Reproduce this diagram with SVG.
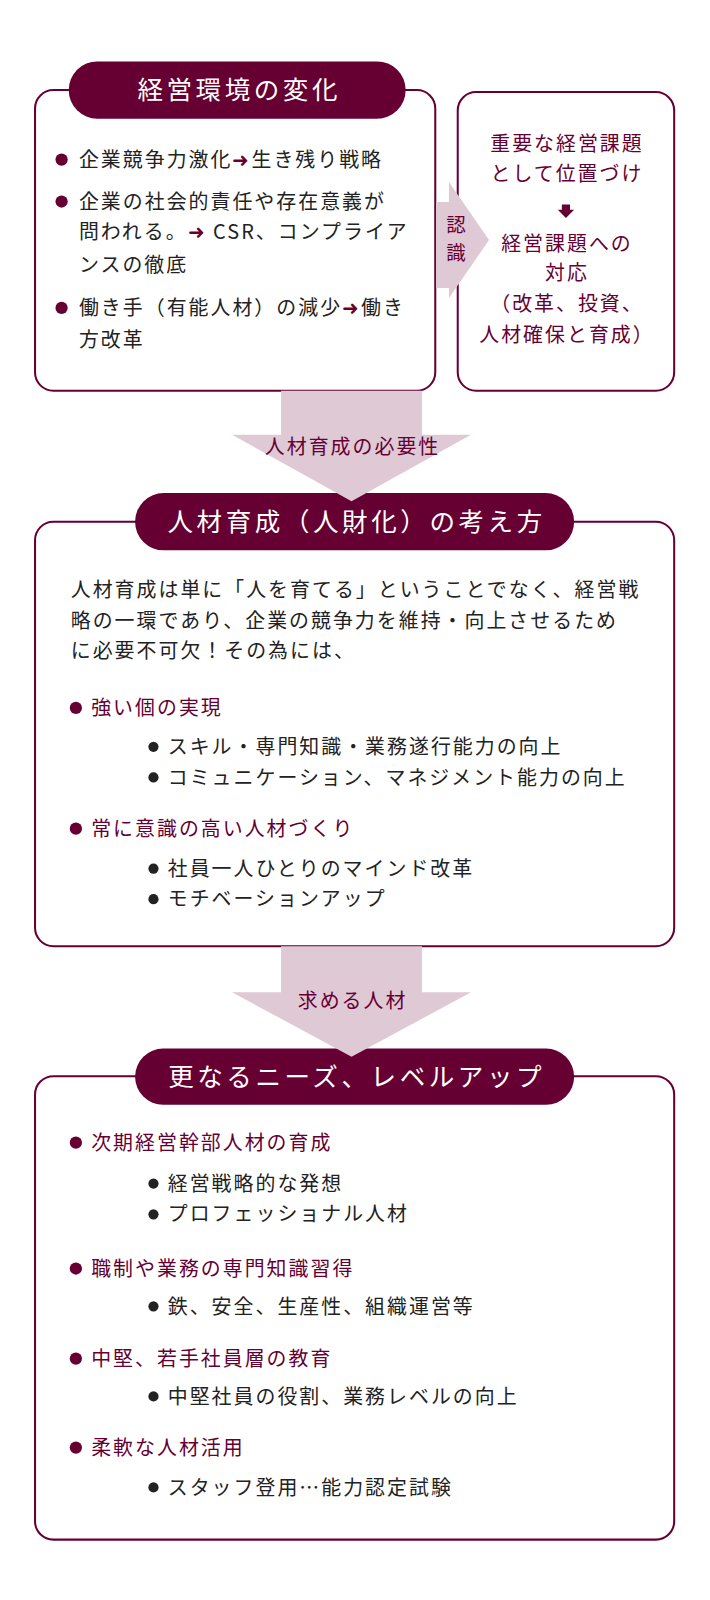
<svg xmlns="http://www.w3.org/2000/svg" width="710" height="1600" viewBox="0 0 710 1600">
<style>
text{font-family:"Noto Sans CJK JP","Noto Sans",sans-serif;font-size:19.5px;fill:#222;letter-spacing:2px}
.box{fill:#fff;stroke:#660033;stroke-width:2}
.pill{fill:#660033}
.ttl{fill:#fff;font-size:25px;text-anchor:middle;letter-spacing:3.5px}
.m{fill:#660033}
.c{text-anchor:middle}
.arr{fill:#dfc9d5}
</style>
<rect width="710" height="1600" fill="#fff"/>
<g transform="matrix(1.021 0 0 1.023 -0.7 0)">
<g id="node1">
<rect class="box" x="35" y="88" width="392" height="294" rx="18"/>
<rect class="pill" x="68" y="60" width="330" height="56" rx="28"/>
<text class="ttl" x="235" y="97">経営環境の変化</text>
<circle class="m" cx="61" cy="156" r="6"/>
<text x="78" y="163">企業競争力激化<tspan class="m">➜</tspan>生き残り戦略</text>
<circle class="m" cx="61" cy="197" r="6"/>
<text x="78" y="204">企業の社会的責任や存在意義が</text>
<text x="78" y="234">問われる。<tspan class="m">➜</tspan> CSR、コンプライア</text>
<text x="78" y="266">ンスの徹底</text>
<circle class="m" cx="61" cy="301" r="6"/>
<text x="78" y="308">働き手（有能人材）の減少<tspan class="m">➜</tspan>働き</text>
<text x="78" y="339">方改革</text>
</g>
<g id="node2">
<rect class="box" x="449" y="90" width="212" height="292" rx="18"/>
<text class="m c" x="556" y="148">重要な経営課題</text>
<text class="m c" x="556" y="177">として位置づけ</text>
<polygon class="m" points="551,200 559,200 559,205 563,205 555,213 547,205 551,205"/>
<text class="m c" x="556" y="245">経営課題への</text>
<text class="m c" x="556" y="274">対応</text>
<text class="m c" x="556" y="304">（改革、投資、</text>
<text class="m c" x="556" y="334">人材確保と育成）</text>
</g>
<g id="node3">
<rect class="box" x="35" y="510" width="626" height="415" rx="18"/>
<rect class="pill" x="133" y="482" width="430" height="56" rx="28"/>
<text class="ttl" x="350" y="519">人材育成（人財化）の考え方</text>
<text x="70" y="584">人材育成は単に「人を育てる」ということでなく、経営戦</text>
<text x="70" y="614">略の一環であり、企業の競争力を維持・向上させるため</text>
<text x="70" y="643">に必要不可欠！その為には、</text>
<circle class="m" cx="75" cy="692" r="6"/>
<text class="m" x="90" y="699">強い個の実現</text>
<circle fill="#222" cx="151" cy="730" r="5"/>
<text x="165" y="737">スキル・専門知識・業務遂行能力の向上</text>
<circle fill="#222" cx="151" cy="760" r="5"/>
<text x="165" y="767">コミュニケーション、マネジメント能力の向上</text>
<circle class="m" cx="75" cy="810" r="6"/>
<text class="m" x="90" y="817">常に意識の高い人材づくり</text>
<circle fill="#222" cx="151" cy="849" r="5"/>
<text x="165" y="856">社員一人ひとりのマインド改革</text>
<circle fill="#222" cx="151" cy="879" r="5"/>
<text x="165" y="886">モチベーションアップ</text>
</g>
<g id="node4">
<rect class="box" x="35" y="1052" width="626" height="453" rx="18"/>
<rect class="pill" x="133" y="1025" width="430" height="55" rx="27.5"/>
<text class="ttl" x="350" y="1062">更なるニーズ、レベルアップ</text>
<circle class="m" cx="75" cy="1117" r="6"/>
<text class="m" x="90" y="1124">次期経営幹部人材の育成</text>
<circle fill="#222" cx="151" cy="1157" r="5"/>
<text x="165" y="1164">経営戦略的な発想</text>
<circle fill="#222" cx="151" cy="1187" r="5"/>
<text x="165" y="1194">プロフェッショナル人材</text>
<circle class="m" cx="75" cy="1240" r="6"/>
<text class="m" x="90" y="1247">職制や業務の専門知識習得</text>
<circle fill="#222" cx="151" cy="1277" r="5"/>
<text x="165" y="1284">鉄、安全、生産性、組織運営等</text>
<circle class="m" cx="75" cy="1328" r="6"/>
<text class="m" x="90" y="1335">中堅、若手社員層の教育</text>
<circle fill="#222" cx="151" cy="1365" r="5"/>
<text x="165" y="1372">中堅社員の役割、業務レベルの向上</text>
<circle class="m" cx="75" cy="1415" r="6"/>
<text class="m" x="90" y="1422">柔軟な人材活用</text>
<circle fill="#222" cx="151" cy="1454" r="5"/>
<text x="165" y="1461">スタッフ登用…能力認定試験</text>
</g>
</g>
<g id="connectors">
<polygon class="arr" points="436,202 449,202 449,182 489,240 449,298 449,288 436,288"/>
<text class="m" x="456" y="232" text-anchor="middle" font-size="19" style="letter-spacing:0">認</text>
<text class="m" x="456" y="260" text-anchor="middle" font-size="19" style="letter-spacing:0">識</text>
<g transform="matrix(1.021 0 0 1.023 -0.7 0)">
<polygon class="arr" points="276,382 414,382 414,425 462,425 345,490 228,425 276,425"/>
<text class="m c" x="346" y="444" font-size="20">人材育成の必要性</text>
<polygon class="arr" points="276,925 414,925 414,970 462,970 345,1033 228,970 276,970"/>
<text class="m c" x="346" y="985" font-size="20">求める人材</text>
</g>
</g>
</svg>
